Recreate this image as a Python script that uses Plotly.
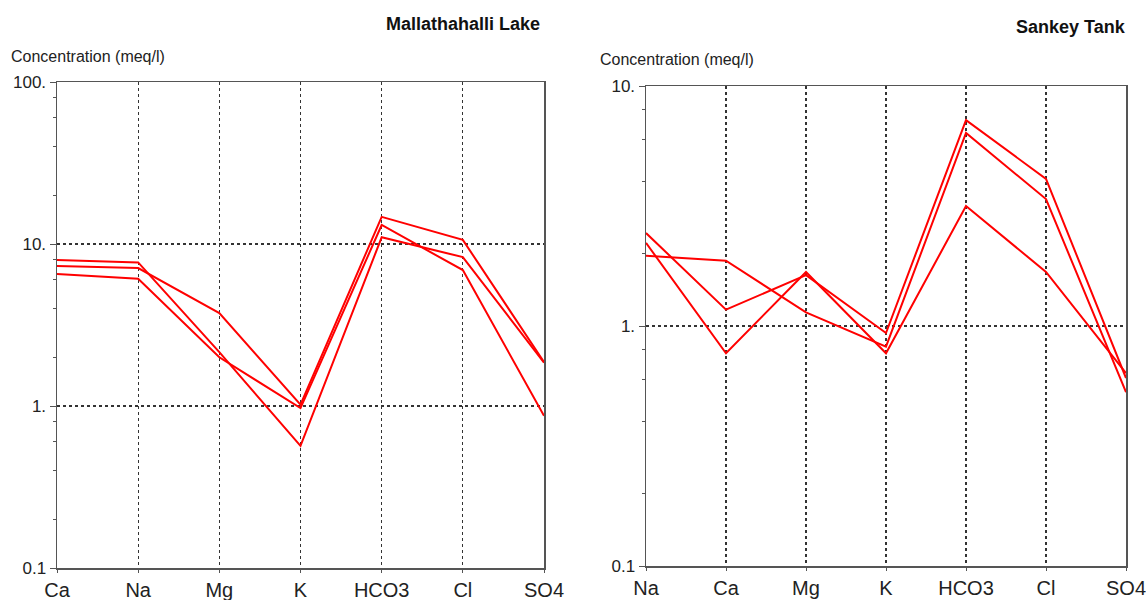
import plotly.graph_objects as go

W, H = 1146, 600

# ---------------- data ----------------
left_title = "Mallathahalli Lake"
left_ions = ["Ca", "Na", "Mg", "K", "HCO3", "Cl", "SO4"]
left_s1 = [7.96, 7.7, 2.15, 0.567, 11.0, 8.3, 1.85]
left_s2 = [7.31, 7.1, 3.75, 1.02, 14.7, 10.6, 1.87]
left_s3 = [6.53, 6.1, 2.0, 0.97, 13.1, 6.9, 0.87]

right_title = "Sankey Tank"
right_ions = ["Na", "Ca", "Mg", "K", "HCO3", "Cl", "SO4"]
right_s1 = [1.96, 1.87, 1.14, 0.82, 6.37, 3.38, 0.53]
right_s2 = [2.44, 1.17, 1.63, 0.935, 7.21, 4.1, 0.607]
right_s3 = [2.22, 0.77, 1.68, 0.77, 3.16, 1.68, 0.637]

left_yticks = [0.1, 1, 10, 100]
left_yticktext = ["0.1", "1.", "10.", "100."]
right_yticks = [0.1, 1, 10]
right_yticktext = ["0.1", "1.", "10."]
ylabel = "Concentration (meq/l)"

# ---------------- layout helpers ----------------
def px_x(p):
    return p / W

def px_y(p):
    return 1 - p / H

FONT = "Liberation Sans, Arial, sans-serif"
RED = "#ff0000"
GRID = "#333333"
BORDER = "#555555"

fig = go.Figure()

for s in (left_s1, left_s2, left_s3):
    fig.add_trace(go.Scatter(x=list(range(len(left_ions))), y=s, mode="lines",
                             line=dict(color=RED, width=2), xaxis="x", yaxis="y",
                             showlegend=False, hoverinfo="skip"))
for s in (right_s1, right_s2, right_s3):
    fig.add_trace(go.Scatter(x=list(range(len(right_ions))), y=s, mode="lines",
                             line=dict(color=RED, width=2), xaxis="x2", yaxis="y2",
                             showlegend=False, hoverinfo="skip"))

def minor_vals(lo_exp, hi_exp):
    vals = []
    for e in range(lo_exp, hi_exp):
        for m in (2, 4, 6, 8):
            vals.append(m * 10 ** e)
    return vals

def xaxis_cfg(ions, dom, anchor):
    return dict(domain=dom, anchor=anchor, range=[0, len(ions) - 1], automargin=False,
                tickmode="array", tickvals=list(range(len(ions))), ticktext=ions,
                showgrid=True, gridcolor=GRID, griddash="3px,3px", gridwidth=1.3,
                showline=True, mirror=True, linecolor=BORDER, linewidth=1.5,
                ticks="outside", ticklen=3, tickcolor=BORDER,
                ticklabeloverflow="allow",
                tickfont=dict(family=FONT, size=20, color="#222222"),
                zeroline=False, fixedrange=True)

def yaxis_cfg(dom, anchor, rng, tv, tt):
    return dict(domain=dom, anchor=anchor, type="log", range=rng, automargin=False,
                tickmode="array", tickvals=tv, ticktext=tt,
                showgrid=True, gridcolor=GRID, griddash="3px,3px", gridwidth=1.3,
                showline=True, mirror=True, linecolor=BORDER, linewidth=1.5,
                ticks="outside", ticklen=6, tickcolor=BORDER,
                ticklabeloverflow="allow",
                minor=dict(tickmode="array", tickvals=minor_vals(rng[0], rng[1]),
                           ticks="outside", ticklen=3, tickcolor=BORDER, showgrid=False),
                tickfont=dict(family=FONT, size=17, color="#222222"),
                zeroline=False, fixedrange=True)

# plot areas (page pixels): left x 57-544, y 82-568 ; right x 646-1126, y 86-566
fig.update_layout(
    width=W, height=H,
    margin=dict(l=0, r=0, t=0, b=0, autoexpand=False),
    paper_bgcolor="white", plot_bgcolor="white",
    hovermode=False,
    xaxis=xaxis_cfg(left_ions, [px_x(57), px_x(544)], "y"),
    yaxis=yaxis_cfg([px_y(568), px_y(82)], "x", [-1, 2], left_yticks, left_yticktext),
    xaxis2=xaxis_cfg(right_ions, [px_x(646), px_x(1126)], "y2"),
    yaxis2=yaxis_cfg([px_y(566), px_y(86)], "x2", [-1, 1], right_yticks, right_yticktext),
    annotations=[
        dict(text=left_title, x=px_x(542), y=px_y(24), xref="paper", yref="paper",
             xanchor="right", yanchor="middle", showarrow=False,
             font=dict(family=FONT, size=18, color="#111111", weight="bold")),
        dict(text=right_title, x=px_x(1128), y=px_y(27), xref="paper", yref="paper",
             xanchor="right", yanchor="middle", showarrow=False,
             font=dict(family=FONT, size=18, color="#111111", weight="bold")),
        dict(text=ylabel, x=px_x(9), y=px_y(57), xref="paper", yref="paper",
             xanchor="left", yanchor="middle", showarrow=False,
             font=dict(family=FONT, size=16, color="#222222")),
        dict(text=ylabel, x=px_x(598), y=px_y(60), xref="paper", yref="paper",
             xanchor="left", yanchor="middle", showarrow=False,
             font=dict(family=FONT, size=16, color="#222222")),
    ],
)

fig.write_html(
    "out.html",
    config={"displayModeBar": False, "staticPlot": True},
    post_script="document.body.style.margin='0';document.body.style.overflow='hidden';",
)
